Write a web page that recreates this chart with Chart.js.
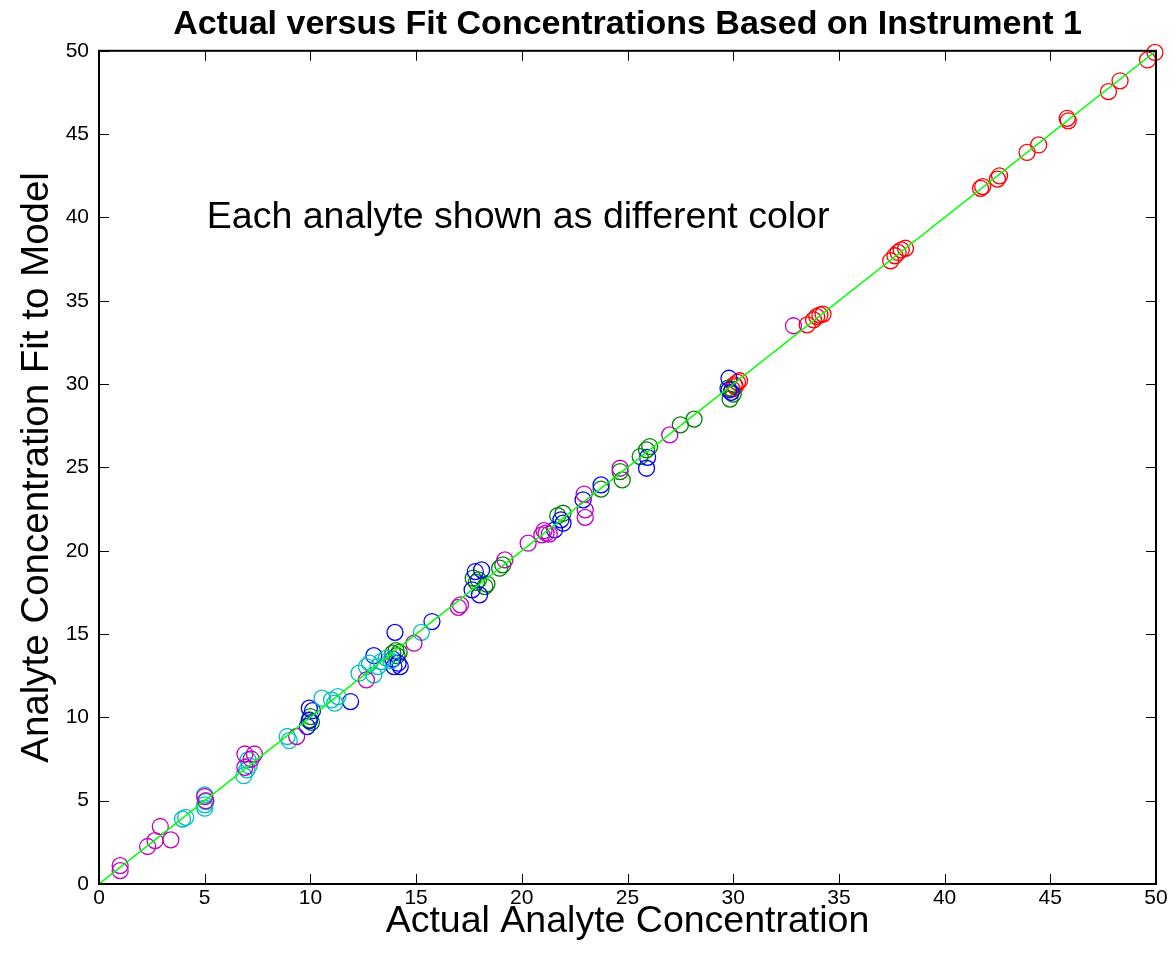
<!DOCTYPE html>
<html>
<head>
<meta charset="utf-8">
<title>Actual versus Fit Concentrations</title>
<script src="https://cdn.jsdelivr.net/npm/chart.js@4/dist/chart.umd.min.js"></script>
<style>
  html, body { margin: 0; padding: 0; background: #fff; }
  #wrap { width: 1175px; height: 963px; }
</style>
</head>
<body>
<div id="wrap"><canvas id="fitChart" width="1175" height="963"></canvas></div>
<script>
// actual vs fitted concentration, one array pair per analyte
const magentaX = [1.0, 1.0, 2.3, 2.65, 2.9, 3.4, 5.0, 5.05, 6.9, 6.9, 7.35, 7.2, 9.35, 12.65, 14.9, 17.0, 17.1, 19.2, 20.3, 20.95, 21.15, 21.3, 21.05, 22.95, 23.0, 23.0, 24.65, 27.0, 32.85];
const magentaY = [1.1, 0.8, 2.25, 2.6, 3.45, 2.65, 5.25, 5.0, 7.8, 7.0, 7.8, 7.5, 8.85, 12.25, 14.45, 16.6, 16.75, 19.45, 20.45, 20.95, 21.05, 21.0, 21.2, 23.4, 22.45, 22.0, 24.95, 26.95, 33.5];

const cyanX = [3.95, 4.1, 5.0, 5.0, 5.05, 5.0, 6.85, 7.0, 7.1, 7.05, 8.9, 9.0, 10.55, 11.0, 11.15, 11.3, 12.3, 12.65, 12.8, 13.0, 13.2, 13.35, 13.6, 13.8, 15.25];
const cyanY = [3.9, 4.0, 4.55, 4.75, 4.95, 5.35, 6.5, 6.85, 7.1, 7.45, 8.85, 8.6, 11.15, 11.05, 10.85, 11.25, 12.65, 13.05, 13.25, 12.55, 13.05, 13.35, 13.55, 13.4, 15.1];

const blueX = [9.95, 10.1, 9.85, 9.95, 11.9, 13.0, 13.95, 14.0, 14.15, 14.25, 13.9, 15.75, 17.65, 17.8, 18.1, 18.0, 21.55, 21.95, 21.85, 22.9, 23.75, 25.9, 25.95, 29.8, 29.8, 29.9];
const blueY = [10.55, 10.4, 9.45, 9.8, 10.95, 13.7, 13.05, 15.1, 13.25, 13.05, 13.5, 15.75, 17.65, 18.75, 18.85, 17.35, 21.25, 21.65, 21.85, 23.05, 23.95, 24.95, 25.6, 30.35, 29.65, 29.5];

const greenX = [9.95, 10.05, 10.0, 13.9, 14.05, 14.1, 14.2, 17.7, 17.95, 18.25, 18.35, 17.85, 18.95, 19.1, 21.7, 21.95, 23.75, 24.65, 24.75, 25.6, 25.9, 26.05, 27.5, 28.15, 29.85, 29.75, 30.0];
const greenY = [9.85, 9.7, 10.05, 13.85, 14.0, 13.7, 13.9, 18.35, 18.25, 17.85, 18.0, 18.1, 18.95, 19.15, 22.1, 22.25, 23.7, 24.75, 24.25, 25.65, 26.05, 26.25, 27.55, 27.9, 29.1, 29.75, 29.4];

const redX = [29.95, 30.05, 30.2, 30.3, 30.1, 33.5, 33.8, 33.95, 34.1, 34.25, 37.45, 37.65, 37.8, 37.95, 38.15, 41.7, 41.8, 42.5, 42.6, 43.9, 44.45, 45.8, 45.85, 47.75, 48.3, 49.6, 49.95];
const redY = [29.7, 29.95, 30.1, 30.2, 29.85, 33.55, 33.85, 34.05, 34.15, 34.2, 37.4, 37.7, 37.9, 38.05, 38.15, 41.75, 41.85, 42.3, 42.5, 43.9, 44.35, 45.95, 45.8, 47.55, 48.2, 49.45, 49.9];

// 1:1 reference line
const idealX = [0, 50];
const idealY = [0, 50];

const axisMin = 0;
const axisMax = 50;
const axisStep = 5;

const FONT = "'Liberation Sans', Arial, Helvetica, sans-serif";

function pairs(xs, ys) {
  return xs.map((x, i) => ({ x: x, y: ys[i] }));
}

function analyte(xs, ys, color) {
  return {
    type: "scatter",
    data: pairs(xs, ys),
    borderColor: color,
    backgroundColor: "rgba(0,0,0,0)",
    borderWidth: 1.3,
    pointRadius: 8,
    pointHoverRadius: 8,
    pointStyle: "circle",
    clip: false,
    order: 2
  };
}

// box around the plot with inward tick marks on all four sides
const boxAxes = {
  id: "boxAxes",
  afterDatasetsDraw(chart) {
    const { ctx, chartArea: a, scales: { x, y } } = chart;
    const len = 10;
    ctx.save();
    ctx.strokeStyle = "#000";
    ctx.lineWidth = 1;
    ctx.beginPath();
    x.ticks.forEach(t => {
      const px = Math.round(x.getPixelForValue(t.value)) + 0.5;
      ctx.moveTo(px, a.bottom); ctx.lineTo(px, a.bottom - len);
      ctx.moveTo(px, a.top); ctx.lineTo(px, a.top + len);
    });
    y.ticks.forEach(t => {
      const py = Math.round(y.getPixelForValue(t.value)) + 0.5;
      ctx.moveTo(a.left, py); ctx.lineTo(a.left + len, py);
      ctx.moveTo(a.right, py); ctx.lineTo(a.right - len, py);
    });
    ctx.stroke();
    ctx.lineWidth = 2;
    ctx.strokeRect(a.left, a.top, a.right - a.left, a.bottom - a.top);
    ctx.restore();
  }
};

// text note placed in data coordinates
const note = {
  id: "note",
  afterDatasetsDraw(chart) {
    const { ctx, scales: { x, y } } = chart;
    ctx.save();
    ctx.fillStyle = "#000";
    ctx.font = "37.5px " + FONT;
    ctx.textAlign = "left";
    ctx.textBaseline = "middle";
    ctx.fillText("Each analyte shown as different color", x.getPixelForValue(5.1), y.getPixelForValue(40));
    ctx.restore();
  }
};

const ctx = document.getElementById("fitChart").getContext("2d");
new Chart(ctx, {
  data: {
    datasets: [
      {
        type: "line",
        data: pairs(idealX, idealY),
        borderColor: "#00ff00",
        borderWidth: 1.5,
        pointRadius: 0,
        fill: false,
        tension: 0,
        order: 1
      },
      analyte(magentaX, magentaY, "#bf00bf"),
      analyte(cyanX, cyanY, "#00bfbf"),
      analyte(blueX, blueY, "#0000ff"),
      analyte(greenX, greenY, "#008000"),
      analyte(redX, redY, "#ff0000")
    ]
  },
  options: {
    responsive: false,
    animation: false,
    events: [],
    layout: { padding: { top: 0, right: 19, left: 0, bottom: 0 } },
    plugins: {
      legend: { display: false },
      tooltip: { enabled: false },
      title: {
        display: true,
        fullSize: false,
        text: "Actual versus Fit Concentrations Based on Instrument 1",
        color: "#000",
        font: { family: FONT, size: 34, weight: "bold" },
        padding: { top: 4, bottom: 6 }
      }
    },
    scales: {
      x: {
        type: "linear",
        min: axisMin,
        max: axisMax,
        afterFit: s => { s.height = 79; },
        grid: { display: false, drawTicks: false },
        border: { display: false },
        ticks: { stepSize: axisStep, color: "#000", padding: 2, font: { family: FONT, size: 21 } },
        title: {
          display: true,
          text: "Actual Analyte Concentration",
          color: "#000",
          font: { family: FONT, size: 37.5 },
          padding: { top: 0, bottom: 19 }
        }
      },
      y: {
        type: "linear",
        min: axisMin,
        max: axisMax,
        afterFit: s => { s.width = 99; },
        grid: { display: false, drawTicks: false },
        border: { display: false },
        ticks: { stepSize: axisStep, color: "#000", padding: 10, font: { family: FONT, size: 21 } },
        title: {
          display: true,
          text: "Analyte Concentration Fit to Model",
          color: "#000",
          font: { family: FONT, size: 38.5 },
          padding: { top: 14, bottom: 0 }
        }
      }
    }
  },
  plugins: [boxAxes, note]
});
</script>
</body>
</html>
